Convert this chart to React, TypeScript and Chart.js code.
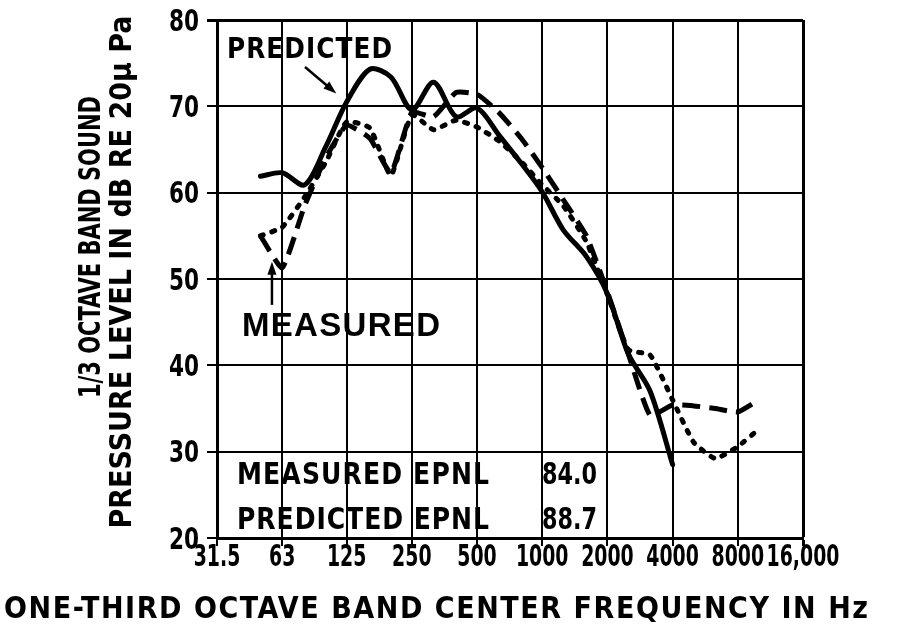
import React, { useEffect, useRef } from 'react';
import { Chart, registerables } from 'chart.js';

Chart.register(...registerables);

// 1/3-octave band centre frequencies (Hz)
const bandFrequencies = [50, 63, 80, 100, 125, 160, 200, 250, 315, 400, 500, 630, 800, 1000, 1250, 1600, 2000, 2500, 3150, 4000, 5000, 6300, 8000, 10000];

// Predicted spectrum (solid)
const predictedLevels = [61.9, 62.3, 60.9, 65.3, 70.5, 74.3, 73.4, 69.6, 72.8, 68.8, 69.8, 66.7, 63.4, 60.1, 55.7, 52.6, 48.3, 41.3, 37.0, 28.5, null, null, null, null];

// Measured spectrum A (long dash)
const measuredLevelsA = [55.0, 51.3, 58.5, 64.0, 67.8, 66.3, 62.3, 69.3, 68.8, 71.6, 71.4, 69.3, 66.3, 62.9, 59.2, 55.0, 48.5, 41.3, 34.2, 35.4, 35.3, 35.0, 34.6, 36.0];

// Measured spectrum B (dotted)
const measuredLevelsB = [55.0, 56.0, 59.5, 63.5, 68.2, 67.5, 62.0, 69.0, 67.3, 68.4, 67.6, 66.0, 63.6, 60.9, 58.5, 54.3, 48.2, 41.8, 41.2, 36.0, 31.1, 29.2, 30.6, 32.6];

// Axis ticks
const xTickValues = [31.5, 63, 125, 250, 500, 1000, 2000, 4000, 8000, 16000];
const xTickLabels = ['31.5', '63', '125', '250', '500', '1000', '2000', '4000', '8000', '16,000'];
const yTickValues = [20, 30, 40, 50, 60, 70, 80];
const yTickLabels = ['20', '30', '40', '50', '60', '70', '80'];

const measuredEPNL = '84.0';
const predictedEPNL = '88.7';

const NARROW = "'DejaVu Sans Condensed', 'DejaVu Sans', sans-serif";
const WIDE = "'Liberation Sans', Arial, sans-serif";

function toPoints(vals: (number | null)[]) {
  return bandFrequencies
    .map((f, i) => ({ x: f, y: vals[i] }))
    .filter((p) => p.y !== null);
}

function fitText(
  ctx: CanvasRenderingContext2D,
  text: string,
  cx: number,
  cy: number,
  width: number,
  size: number,
  family: string,
  condense = 1,
  rotate = false
) {
  ctx.save();
  ctx.font = `bold ${size}px ${family}`;
  (ctx as any).letterSpacing = '0px';
  const w0 = ctx.measureText(text).width;
  const n = Array.from(text).length;
  const k = Math.min(condense, width / w0);
  const extra = width - w0 * k;
  const ls = n > 1 ? extra / (n - 1) / k : 0;
  (ctx as any).letterSpacing = `${ls}px`;
  ctx.translate(cx, cy);
  if (rotate) ctx.rotate(-Math.PI / 2);
  ctx.scale(k, 1);
  ctx.fillStyle = '#000';
  ctx.textAlign = 'left';
  ctx.textBaseline = 'alphabetic';
  ctx.fillText(text, -width / (2 * k), size * 0.36);
  ctx.restore();
}

function label(
  ctx: CanvasRenderingContext2D,
  text: string,
  x: number,
  cy: number,
  size: number,
  k: number,
  align: 'center' | 'right'
) {
  ctx.save();
  ctx.font = `bold ${size}px ${NARROW}`;
  ctx.translate(x, cy);
  ctx.scale(k, 1);
  ctx.fillStyle = '#000';
  ctx.textAlign = align;
  ctx.textBaseline = 'alphabetic';
  ctx.fillText(text, 0, size * 0.36);
  ctx.restore();
}

function arrow(ctx: CanvasRenderingContext2D, x1: number, y1: number, x2: number, y2: number) {
  const ang = Math.atan2(y2 - y1, x2 - x1);
  const head = 13;
  const half = 4.5;
  ctx.save();
  ctx.strokeStyle = '#000';
  ctx.fillStyle = '#000';
  ctx.lineWidth = 2.5;
  ctx.beginPath();
  ctx.moveTo(x1, y1);
  ctx.lineTo(x2 - Math.cos(ang) * head * 0.8, y2 - Math.sin(ang) * head * 0.8);
  ctx.stroke();
  ctx.beginPath();
  ctx.moveTo(x2, y2);
  ctx.lineTo(x2 - Math.cos(ang) * head - Math.sin(ang) * half, y2 - Math.sin(ang) * head + Math.cos(ang) * half);
  ctx.lineTo(x2 - Math.cos(ang) * head + Math.sin(ang) * half, y2 - Math.sin(ang) * head - Math.cos(ang) * half);
  ctx.closePath();
  ctx.fill();
  ctx.restore();
}

const annotationPlugin = {
  id: 'annotations',
  afterDraw(chart: any) {
    const ctx = chart.ctx as CanvasRenderingContext2D;
    const xs = chart.scales.x;
    const ys = chart.scales.y;
    const area = chart.chartArea;
    // tick labels
    xTickValues.forEach((v, i) => {
      label(ctx, xTickLabels[i], xs.getPixelForValue(v), area.bottom + 17, 30, 0.7, 'center');
    });
    yTickValues.forEach((v, i) => {
      label(ctx, yTickLabels[i], area.left - 18, ys.getPixelForValue(v), 30, 0.8, 'right');
    });
    // axis titles
    fitText(ctx, 'ONE-THIRD OCTAVE BAND CENTER FREQUENCY IN Hz', 436, 607, 864, 30, NARROW, 1);
    fitText(ctx, '1/3 OCTAVE BAND SOUND', 89, 247, 302, 30, NARROW, 1, true);
    fitText(ctx, 'PRESSURE LEVEL IN dB RE 20\u03BC Pa', 120, 272, 513, 30, NARROW, 1, true);
    // labels in plot
    fitText(ctx, 'PREDICTED', 309.5, 47.5, 165, 29, NARROW, 0.95);
    fitText(ctx, 'MEASURED', 341, 324.5, 198, 33, WIDE, 1.0);
    fitText(ctx, 'MEASURED EPNL', 363, 473, 252, 30, NARROW, 0.93);
    fitText(ctx, 'PREDICTED EPNL', 363, 518, 252, 30, NARROW, 0.93);
    fitText(ctx, measuredEPNL, 569.5, 473, 55, 30, NARROW, 0.85);
    fitText(ctx, predictedEPNL, 569.5, 518, 55, 30, NARROW, 0.85);
    // arrows
    arrow(ctx, 305, 67, xs.getPixelForValue(112), ys.getPixelForValue(71.5));
    const mx = xs.getPixelForValue(56.5);
    arrow(ctx, mx, ys.getPixelForValue(47), mx, ys.getPixelForValue(52));
  },
};

export default function App() {
  const ref = useRef<HTMLCanvasElement>(null);
  useEffect(() => {
    document.body.style.margin = '0';
    const canvas = ref.current!;
    const common = {
      borderColor: '#000',
      pointRadius: 0,
      borderWidth: 5,
      fill: false,
    };
    const chart = new Chart(canvas, {
      type: 'line',
      data: {
        datasets: [
          {
            ...common,
            label: 'Measured A',
            data: toPoints(measuredLevelsA),
            borderDash: [18, 9],
            borderCapStyle: 'butt',
            tension: 0.15,
          },
          {
            ...common,
            label: 'Measured B',
            data: toPoints(measuredLevelsB),
            borderDash: [3, 9],
            borderCapStyle: 'round',
            borderWidth: 5,
            tension: 0.15,
          },
          {
            ...common,
            label: 'Predicted',
            data: toPoints(predictedLevels),
            borderCapStyle: 'round',
            tension: 0.3,
          },
        ],
      } as any,
      options: {
        animation: false,
        responsive: false,
        devicePixelRatio: 1,
        layout: { padding: { left: 0, top: 20, right: 96, bottom: 0 } },
        plugins: { legend: { display: false }, tooltip: { enabled: false }, title: { display: false } },
        scales: {
          x: {
            type: 'logarithmic',
            min: 31.5,
            max: 16000,
            afterBuildTicks: (s: any) => {
              s.ticks = xTickValues.map((v) => ({ value: v }));
            },
            afterFit: (s: any) => {
              s.height = 102;
            },
            ticks: { display: false, autoSkip: false },
            grid: {
              color: '#000',
              lineWidth: (c: any) => (c.index === xTickValues.length - 1 ? 3 : 2),
              tickLength: 8,
            },
            border: { display: true, color: '#000', width: 3 },
          },
          y: {
            type: 'linear',
            min: 20,
            max: 80,
            afterBuildTicks: (s: any) => {
              s.ticks = yTickValues.map((v) => ({ value: v }));
            },
            afterFit: (s: any) => {
              s.width = 217;
            },
            ticks: { display: false },
            grid: {
              color: '#000',
              lineWidth: (c: any) => (c.tick && c.tick.value === 80 ? 3 : 2),
              tickLength: 10,
            },
            border: { display: true, color: '#000', width: 3 },
          },
        },
      } as any,
      plugins: [annotationPlugin],
    });
    return () => chart.destroy();
  }, []);
  return <canvas ref={ref} width={899} height={640} style={{ display: 'block' }} />;
}
